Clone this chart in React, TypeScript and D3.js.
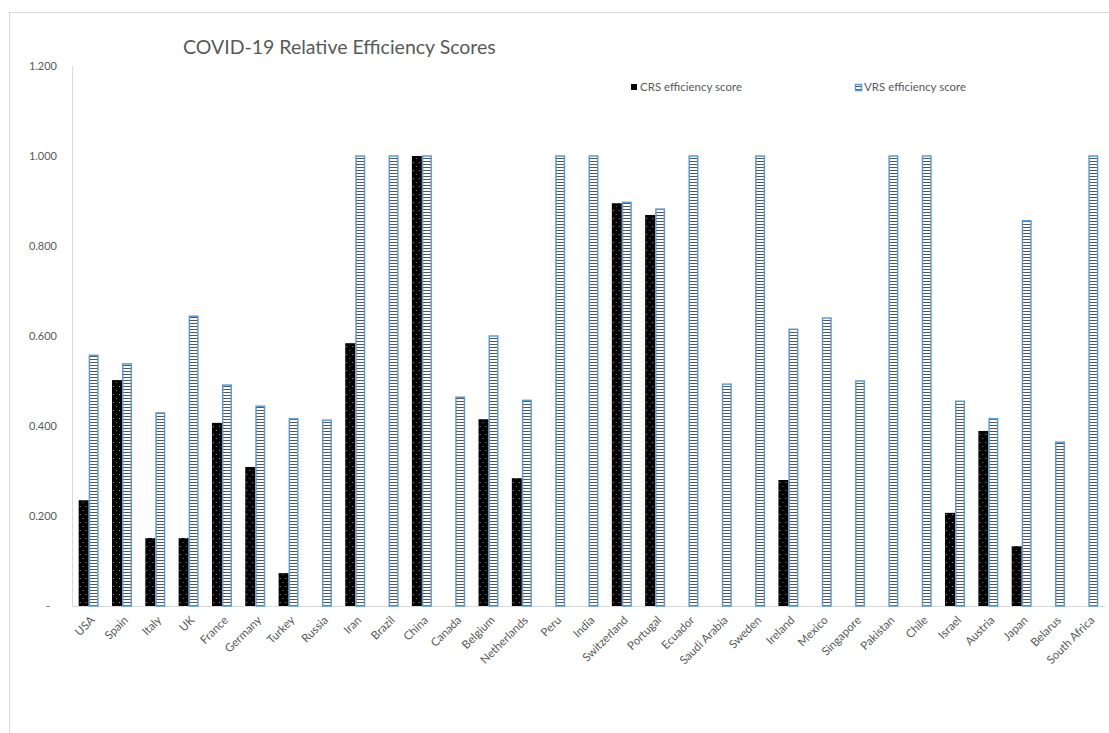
import React, { useEffect, useRef } from "react";
import * as d3 from "d3";

const countries = [
  "USA", "Spain", "Italy", "UK", "France", "Germany", "Turkey", "Russia", "Iran", "Brazil",
  "China", "Canada", "Belgium", "Netherlands", "Peru", "India", "Switzerland", "Portugal",
  "Ecuador", "Saudi Arabia", "Sweden", "Ireland", "Mexico", "Singapore", "Pakistan", "Chile",
  "Israel", "Austria", "Japan", "Belarus", "South Africa",
];

const crsScores = [
  0.235, 0.502, 0.151, 0.151, 0.407, 0.309, 0.073, 0, 0.584, 0,
  1.0, 0, 0.415, 0.284, 0, 0, 0.895, 0.869,
  0, 0, 0, 0.28, 0, 0, 0, 0,
  0.207, 0.389, 0.133, 0, 0,
];

const vrsScores = [
  0.557, 0.538, 0.429, 0.644, 0.491, 0.444, 0.416, 0.413, 1.0, 1.0,
  1.0, 0.464, 0.6, 0.457, 1.0, 1.0, 0.897, 0.882,
  1.0, 0.493, 1.0, 0.615, 0.64, 0.5, 1.0, 1.0,
  0.455, 0.416, 0.856, 0.364, 1.0,
];

const yTicks = [0, 0.2, 0.4, 0.6, 0.8, 1.0, 1.2];
const seriesNames = ["CRS efficiency score", "VRS efficiency score"];

const W = 1109;
const H = 733;
const FONT = "Lato, 'Open Sans', sans-serif";
const GRAY = "#595959";

export default function App() {
  const svgRef = useRef<SVGSVGElement>(null);

  useEffect(() => {
    const svg = d3.select(svgRef.current);
    svg.selectAll("*").remove();

    const defs = svg.append("defs");

    // dotted black pattern for CRS
    const dots = defs.append("pattern")
      .attr("id", "crs-pat")
      .attr("patternUnits", "userSpaceOnUse")
      .attr("width", 6)
      .attr("height", 8);
    dots.append("rect").attr("width", 6).attr("height", 8).attr("fill", "#000");
    dots.append("rect").attr("x", 1).attr("y", 2).attr("width", 1).attr("height", 1).attr("fill", "#9a9a9a");
    dots.append("rect").attr("x", 4).attr("y", 6).attr("width", 1).attr("height", 1).attr("fill", "#7a7a7a");

    // narrow horizontal stripes for VRS
    const stripes = defs.append("pattern")
      .attr("id", "vrs-pat")
      .attr("patternUnits", "userSpaceOnUse")
      .attr("width", 4)
      .attr("height", 3);
    stripes.append("rect").attr("width", 4).attr("height", 3).attr("fill", "#fff");
    stripes.append("rect").attr("y", 2).attr("width", 4).attr("height", 1).attr("fill", "#555");

    // outer frame
    svg.append("rect")
      .attr("x", 9.5).attr("y", 12.5)
      .attr("width", W - 9).attr("height", H - 10)
      .attr("fill", "#fff")
      .attr("stroke", "#d9d9d9");

    const x = d3.scaleBand<string>()
      .domain(countries)
      .range([72, 1105])
      .paddingInner(0.4)
      .paddingOuter(0.2);

    const x1 = d3.scaleBand<string>()
      .domain(["crs", "vrs"])
      .range([0, x.bandwidth()]);

    const y = d3.scaleLinear().domain([0, 1.2]).range([606, 66]);

    // axes lines
    svg.append("line")
      .attr("x1", 72.5).attr("x2", 72.5)
      .attr("y1", y(1.2)).attr("y2", y(0))
      .attr("stroke", "#d9d9d9");
    svg.append("line")
      .attr("x1", 72).attr("x2", 1105)
      .attr("y1", y(0) + 0.5).attr("y2", y(0) + 0.5)
      .attr("stroke", "#d9d9d9");

    // y tick labels
    svg.append("g")
      .selectAll("text")
      .data(yTicks)
      .join("text")
      .attr("x", d => (d === 0 ? 50 : 57))
      .attr("y", d => y(d))
      .attr("dy", "0.35em")
      .attr("text-anchor", "end")
      .attr("font-family", FONT)
      .attr("font-size", 11)
      .attr("fill", GRAY)
      .text(d => (d === 0 ? "-" : d3.format(".3f")(d)));

    const rows = countries.map((c, i) => ({ c, crs: crsScores[i], vrs: vrsScores[i] }));

    const groups = svg.append("g")
      .selectAll("g")
      .data(rows)
      .join("g")
      .attr("transform", d => `translate(${x(d.c)},0)`);

    groups.filter(d => d.crs > 0)
      .append("rect")
      .attr("x", x1("crs")!)
      .attr("y", d => y(d.crs))
      .attr("width", x1.bandwidth())
      .attr("height", d => y(0) - y(d.crs))
      .attr("fill", "url(#crs-pat)");

    groups.append("rect")
      .attr("x", x1("vrs")! + 0.75)
      .attr("y", d => y(d.vrs))
      .attr("width", x1.bandwidth() - 1.5)
      .attr("height", d => y(0) - y(d.vrs))
      .attr("fill", "url(#vrs-pat)")
      .attr("stroke", "#5b9bd5")
      .attr("stroke-width", 1.5);

    // x labels
    svg.append("g")
      .selectAll("text")
      .data(countries)
      .join("text")
      .attr("transform", d => `translate(${x(d)! + x.bandwidth() / 2 + 4},${618}) rotate(-45)`)
      .attr("text-anchor", "end")
      .attr("dy", "0.35em")
      .attr("font-family", FONT)
      .attr("font-size", 11.5)
      .attr("fill", GRAY)
      .text(d => d);

    // title
    svg.append("text")
      .attr("x", 183)
      .attr("y", 54)
      .attr("font-family", FONT)
      .attr("font-size", 19.5)
      .attr("fill", GRAY)
      .text("COVID-19 Relative Efficiency Scores");

    // legend
    const legendX = [631, 855];
    const leg = svg.append("g")
      .selectAll("g")
      .data(seriesNames)
      .join("g")
      .attr("transform", (d, i) => `translate(${legendX[i]},84)`);
    leg.append("rect")
      .attr("x", (d, i) => (i === 0 ? 0 : 0.5))
      .attr("y", (d, i) => (i === 0 ? 0 : 0.5))
      .attr("width", 6)
      .attr("height", 6)
      .attr("fill", (d, i) => (i === 0 ? "#000" : "url(#vrs-pat)"))
      .attr("stroke", (d, i) => (i === 0 ? "none" : "#5b9bd5"))
      .attr("stroke-width", 1.5);
    leg.append("text")
      .attr("x", 9)
      .attr("y", 3)
      .attr("dy", "0.35em")
      .attr("font-family", FONT)
      .attr("font-size", 11.5)
      .attr("fill", GRAY)
      .text(d => d);
  }, []);

  return (
    <svg
      ref={svgRef}
      width={W}
      height={H}
      style={{ position: "absolute", left: 0, top: 0, background: "#fff" }}
    />
  );
}
